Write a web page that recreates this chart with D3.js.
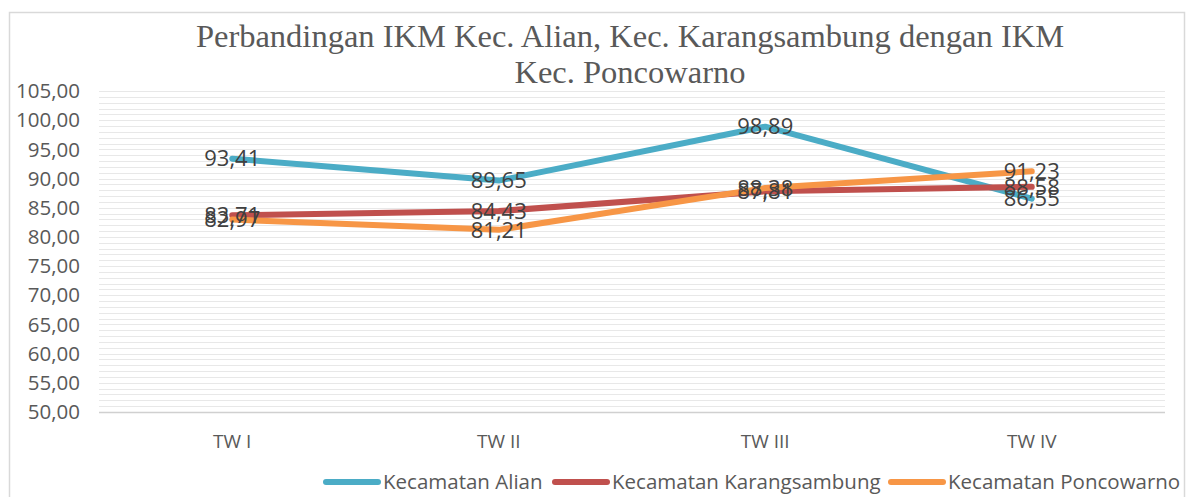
<!DOCTYPE html>
<html lang="en">
<head>
<meta charset="utf-8">
<title>Perbandingan IKM</title>
<script src="https://d3js.org/d3.v7.min.js"></script>
<style>
  body { margin: 0; background: #fff; }
</style>
</head>
<body>
<div id="chart"></div>
<script>
// data
var categories = ["TW I", "TW II", "TW III", "TW IV"];
var alian = [93.41, 89.65, 98.89, 86.55];
var karangsambung = [83.71, 84.43, 87.81, 88.58];
var poncowarno = [82.97, 81.21, 88.38, 91.23];
var seriesNames = ["Kecamatan Alian", "Kecamatan Karangsambung", "Kecamatan Poncowarno"];
var yTicks = [50, 55, 60, 65, 70, 75, 80, 85, 90, 95, 100, 105];

var colors = ["#4BACC6", "#C0504D", "#F79646"];
var series = [alian, karangsambung, poncowarno].map(function (v, i) {
  return { name: seriesNames[i], values: v, color: colors[i] };
});

var W = 1186, H = 497;
var svg = d3.select("#chart").append("svg")
  .attr("width", W).attr("height", H);

// outer border
svg.append("rect")
  .attr("x", 9.5).attr("y", 12.5)
  .attr("width", 1175).attr("height", 500)
  .attr("fill", "none").attr("stroke", "#d9d9d9").attr("stroke-width", 1.5);

var x = d3.scaleBand().domain(categories).range([99, 1165]);
var y = d3.scaleLinear().domain([50, 105]).range([412, 91]);

// gridlines, every 1 unit
var grid = d3.range(50, 106, 1);
svg.append("g").selectAll("line")
  .data(grid).enter().append("line")
  .attr("x1", 99).attr("x2", 1165)
  .attr("y1", function (d) { return Math.round(y(d)) + 0.5; })
  .attr("y2", function (d) { return Math.round(y(d)) + 0.5; })
  .attr("stroke", function (d) { return d === 50 ? "#d0d0d0" : "#e8e8e8"; })
  .attr("stroke-width", function (d) { return d === 50 ? 1.5 : 1; });

// y axis labels
svg.append("g").selectAll("text")
  .data(yTicks).enter().append("text")
  .attr("x", 80).attr("y", function (d) { return y(d); })
  .attr("dy", "0.35em")
  .attr("text-anchor", "end")
  .attr("font-family", "Open Sans, sans-serif")
  .attr("font-size", 20.5)
  .attr("fill", "#595959")
  .text(function (d) { return d.toFixed(2).replace(".", ","); });

// x axis labels
svg.append("g").selectAll("text")
  .data(categories).enter().append("text")
  .attr("x", function (d) { return x(d) + x.bandwidth() / 2; })
  .attr("y", 441).attr("dy", "0.35em")
  .attr("text-anchor", "middle")
  .attr("font-family", "Open Sans, sans-serif")
  .attr("font-size", 19)
  .attr("fill", "#595959")
  .text(function (d) { return d; });

// lines
var line = d3.line()
  .x(function (d, i) { return x(categories[i]) + x.bandwidth() / 2; })
  .y(function (d) { return y(d); });

svg.append("g").selectAll("path")
  .data(series).enter().append("path")
  .attr("d", function (d) { return line(d.values); })
  .attr("fill", "none")
  .attr("stroke", function (d) { return d.color; })
  .attr("stroke-width", 6)
  .attr("stroke-linecap", "round")
  .attr("stroke-linejoin", "round");

// data labels
series.forEach(function (s) {
  svg.append("g").selectAll("text")
    .data(s.values).enter().append("text")
    .attr("x", function (d, i) { return x(categories[i]) + x.bandwidth() / 2; })
    .attr("y", function (d) { return y(d); })
    .attr("dy", "0.35em")
    .attr("text-anchor", "middle")
    .attr("font-family", "Open Sans, sans-serif")
    .attr("font-size", 22)
    .attr("fill", "#404040")
    .text(function (d) { return d.toFixed(2).replace(".", ","); });
});

// title
var title = svg.append("text")
  .attr("text-anchor", "middle")
  .attr("font-family", "Liberation Serif, serif")
  .attr("font-size", 32.5)
  .attr("fill", "#595959");
title.append("tspan").attr("x", 630).attr("y", 47)
  .text("Perbandingan IKM Kec. Alian, Kec. Karangsambung dengan IKM");
title.append("tspan").attr("x", 630).attr("y", 83)
  .text("Kec. Poncowarno");

// legend
var legendX = [323, 552, 888];
var lg = svg.append("g").selectAll("g")
  .data(series).enter().append("g")
  .attr("transform", function (d, i) { return "translate(" + legendX[i] + ",482)"; });
lg.append("line")
  .attr("x1", 3).attr("x2", 55)
  .attr("stroke", function (d) { return d.color; })
  .attr("stroke-width", 6)
  .attr("stroke-linecap", "round");
lg.append("text")
  .attr("x", 60).attr("dy", "0.35em")
  .attr("font-family", "Open Sans, sans-serif")
  .attr("font-size", 20.5)
  .attr("fill", "#595959")
  .text(function (d) { return d.name; });
</script>
</body>
</html>
